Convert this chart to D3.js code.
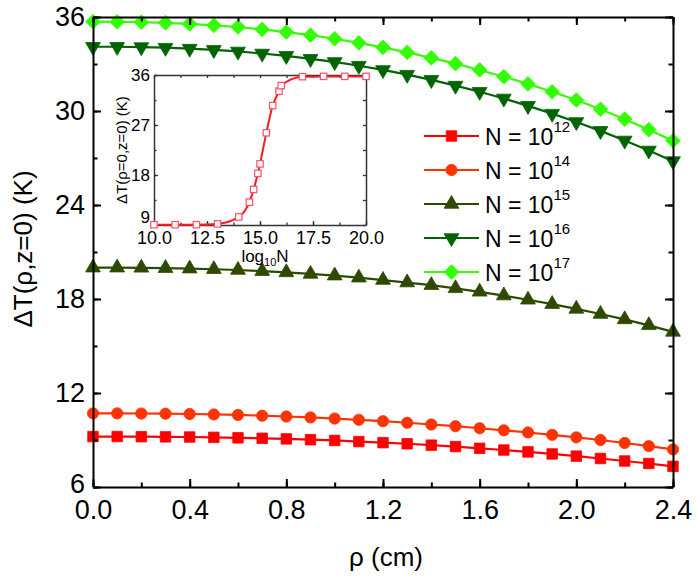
<!DOCTYPE html>
<html>
<head>
<meta charset="utf-8">
<script src="https://cdn.jsdelivr.net/npm/d3@7"></script>
<style>
  html, body { margin: 0; padding: 0; background: #ffffff; }
  text { font-family: "Liberation Sans", Arial, Helvetica, sans-serif; fill: #000; }
</style>
</head>
<body>
<script>
// ---------------- data ----------------
const rho = [0.0, 0.1, 0.2, 0.3, 0.4, 0.5, 0.6, 0.7, 0.8, 0.9, 1.0, 1.1, 1.2,
             1.3, 1.4, 1.5, 1.6, 1.7, 1.8, 1.9, 2.0, 2.1, 2.2, 2.3, 2.4];

const dT_N12 = [9.22, 9.22, 9.21, 9.20, 9.19, 9.17, 9.14, 9.11, 9.07, 9.02, 8.97, 8.90, 8.83,
                8.76, 8.67, 8.58, 8.47, 8.36, 8.24, 8.11, 7.97, 7.82, 7.66, 7.50, 7.32];
const dT_N14 = [10.70, 10.70, 10.69, 10.68, 10.66, 10.63, 10.60, 10.55, 10.50, 10.44, 10.37, 10.29, 10.20,
                10.10, 9.99, 9.88, 9.75, 9.62, 9.48, 9.33, 9.17, 9.00, 8.81, 8.61, 8.40];
const dT_N15 = [20.00, 20.00, 19.99, 19.97, 19.94, 19.90, 19.85, 19.78, 19.70, 19.60, 19.49, 19.36, 19.21,
                19.05, 18.88, 18.68, 18.46, 18.22, 17.95, 17.67, 17.37, 17.04, 16.70, 16.32, 15.90];
const dT_N16 = [34.10, 34.10, 34.08, 34.04, 33.98, 33.90, 33.80, 33.67, 33.52, 33.33, 33.13, 32.89, 32.62,
                32.32, 31.99, 31.62, 31.23, 30.80, 30.33, 29.83, 29.30, 28.73, 28.12, 27.48, 26.80];
const dT_N17 = [35.70, 35.69, 35.67, 35.63, 35.56, 35.47, 35.36, 35.21, 35.04, 34.84, 34.61, 34.35, 34.06,
                33.74, 33.39, 33.02, 32.62, 32.19, 31.73, 31.23, 30.70, 30.11, 29.48, 28.81, 28.10];

const legendExponents = ["12", "14", "15", "16", "17"];

const xTicks = [0.0, 0.4, 0.8, 1.2, 1.6, 2.0, 2.4];
const yTicks = [6, 12, 18, 24, 30, 36];

// inset: ΔT(ρ=0, z=0) versus log10 N
const insetLogN = [10.0, 11.0, 12.0, 13.0, 14.0, 14.5, 14.7, 14.9, 15.0, 15.3, 15.6, 15.9, 16.0, 17.0, 18.0, 19.0, 20.0];
const insetDT   = [9.05, 9.05, 9.05, 9.2, 10.45, 13.1, 15.4, 18.3, 20.0, 25.6, 30.5, 33.1, 34.1, 35.7, 35.75, 35.75, 35.75];
const insetXTicks = [10.0, 12.5, 15.0, 17.5, 20.0];
const insetYTicks = [9, 18, 27, 36];

// ---------------- styles ----------------
const seriesData = [dT_N12, dT_N14, dT_N15, dT_N16, dT_N17];
const colors = ["#ff0000", "#ff3300", "#2f4a00", "#006400", "#33ff00"];
const symbolTypes = ["square", "circle", "triangle", "triangleDown", "diamond"];

const W = 696, H = 578;
const svg = d3.select("body").append("svg").attr("width", W).attr("height", H);

const x = d3.scaleLinear().domain([0, 2.4]).range([93, 673]);
const y = d3.scaleLinear().domain([6, 36]).range([487, 17]);

function symbolPath(type) {
  switch (type) {
    case "square": return d3.symbol(d3.symbolSquare, 110)();
    case "circle": return d3.symbol(d3.symbolCircle, 100)();
    case "triangle": return d3.symbol(d3.symbolTriangle, 95)();
    case "triangleDown": return d3.symbol(d3.symbolTriangle, 95)();
    case "diamond": return d3.symbol(d3.symbolSquare, 108)();
  }
}
function symbolRotate(type) {
  if (type === "triangleDown") return 180;
  if (type === "diamond") return 45;
  return 0;
}

// ---------------- series ----------------
const line = d3.line().x((d, i) => x(rho[i])).y(d => y(d));
seriesData.forEach((vals, si) => {
  svg.append("path").datum(vals)
    .attr("d", line)
    .attr("fill", "none")
    .attr("stroke", colors[si])
    .attr("stroke-width", 2.2);
  svg.append("g").selectAll("path").data(vals).join("path")
    .attr("d", symbolPath(symbolTypes[si]))
    .attr("transform", (d, i) => `translate(${x(rho[i])},${y(d)}) rotate(${symbolRotate(symbolTypes[si])})`)
    .attr("fill", colors[si])
    .attr("stroke", colors[si])
    .attr("stroke-width", 0.8);
});

// ---------------- main axes ----------------
const xMinor = d3.range(0, 13).map(i => i * 0.2);
const yMinor = d3.range(0, 11).map(i => 6 + i * 3);

function styleAxis(g, width) {
  g.selectAll("path.domain").attr("stroke", "#000").attr("stroke-width", width);
  g.selectAll(".tick line").attr("stroke", "#000").attr("stroke-width", width);
}

// bottom
const gxb = svg.append("g").attr("transform", `translate(0,${y(6)})`)
  .call(d3.axisBottom(x).tickValues(xTicks).tickFormat(d3.format(".1f")).tickSize(-8).tickSizeOuter(0).tickPadding(13));
gxb.selectAll("text").attr("font-size", 27).attr("font-family", "Liberation Sans, Arial, sans-serif").attr("fill", "#000");
styleAxis(gxb, 2);
svg.append("g").attr("transform", `translate(0,${y(6)})`)
  .call(d3.axisBottom(x).tickValues(xMinor).tickFormat("").tickSize(-4.5).tickSizeOuter(0))
  .call(g => { g.select(".domain").remove(); styleAxis(g, 2); });
// top
const gxt = svg.append("g").attr("transform", `translate(0,${y(36)})`)
  .call(d3.axisTop(x).tickValues(xTicks).tickFormat("").tickSize(-8).tickSizeOuter(0));
styleAxis(gxt, 2);
svg.append("g").attr("transform", `translate(0,${y(36)})`)
  .call(d3.axisTop(x).tickValues(xMinor).tickFormat("").tickSize(-4.5).tickSizeOuter(0))
  .call(g => { g.select(".domain").remove(); styleAxis(g, 2); });
// left
const gyl = svg.append("g").attr("transform", `translate(${x(0)},0)`)
  .call(d3.axisLeft(y).tickValues(yTicks).tickFormat(d3.format("d")).tickSize(-8).tickSizeOuter(0).tickPadding(8));
gyl.selectAll("text").attr("font-size", 27).attr("font-family", "Liberation Sans, Arial, sans-serif").attr("fill", "#000");
gyl.selectAll(".tick").filter(d => d === 6).select("text").attr("dy", "0.2em");
styleAxis(gyl, 2);
svg.append("g").attr("transform", `translate(${x(0)},0)`)
  .call(d3.axisLeft(y).tickValues(yMinor).tickFormat("").tickSize(-4.5).tickSizeOuter(0))
  .call(g => { g.select(".domain").remove(); styleAxis(g, 2); });
// right
const gyr = svg.append("g").attr("transform", `translate(${x(2.4)},0)`)
  .call(d3.axisRight(y).tickValues(yTicks).tickFormat("").tickSize(-8).tickSizeOuter(0));
styleAxis(gyr, 2);
svg.append("g").attr("transform", `translate(${x(2.4)},0)`)
  .call(d3.axisRight(y).tickValues(yMinor).tickFormat("").tickSize(-4.5).tickSizeOuter(0))
  .call(g => { g.select(".domain").remove(); styleAxis(g, 2); });

// axis titles
svg.append("text")
  .attr("x", 386).attr("y", 566)
  .attr("text-anchor", "middle")
  .attr("font-size", 26)
  .text("ρ (cm)");
svg.append("text")
  .attr("transform", "translate(32,249) rotate(-90)")
  .attr("text-anchor", "middle")
  .attr("font-size", 26)
  .text("ΔT(ρ,z=0) (K)");

// ---------------- legend ----------------
const legendY0 = 136, legendDY = 34;
legendExponents.forEach((ex, i) => {
  const ly = legendY0 + i * legendDY;
  const g = svg.append("g");
  g.append("line").attr("x1", 424).attr("x2", 479).attr("y1", ly).attr("y2", ly)
    .attr("stroke", colors[i]).attr("stroke-width", 2.2);
  g.append("path").attr("d", symbolPath(symbolTypes[i]))
    .attr("transform", `translate(451.5,${ly}) rotate(${symbolRotate(symbolTypes[i])})`)
    .attr("fill", colors[i]).attr("stroke", colors[i]).attr("stroke-width", 0.8);
  const t = g.append("text").attr("x", 485).attr("y", ly + 8.5).attr("font-size", 23);
  t.append("tspan").text("N = 10");
  t.append("tspan").attr("dy", -13).attr("font-size", 15).text(ex);
});

// ---------------- inset ----------------
const xi = d3.scaleLinear().domain([10, 20]).range([154, 366]);
const yi = d3.scaleLinear().domain([9, 36]).range([225, 75]);
const inset = svg.append("g");

const insetXMinor = d3.range(0, 9).map(i => 10 + i * 1.25);
const insetYMinor = d3.range(0, 7).map(i => 9 + i * 4.5);
const axisCol = "#333";

function styleInset(g) {
  g.selectAll("path.domain").attr("stroke", axisCol).attr("stroke-width", 1.5);
  g.selectAll(".tick line").attr("stroke", axisCol).attr("stroke-width", 1.3);
}
const gib = inset.append("g").attr("transform", `translate(0,${yi(9)})`)
  .call(d3.axisBottom(xi).tickValues(insetXTicks).tickFormat(d3.format(".1f")).tickSize(-4).tickSizeOuter(0).tickPadding(6));
gib.selectAll("text").attr("font-size", 18).attr("font-family", "Liberation Sans, Arial, sans-serif").attr("fill", "#000");
styleInset(gib);
inset.append("g").attr("transform", `translate(0,${yi(9)})`)
  .call(d3.axisBottom(xi).tickValues(insetXMinor).tickFormat("").tickSize(-2.5).tickSizeOuter(0))
  .call(g => { g.select(".domain").remove(); styleInset(g); });
const git = inset.append("g").attr("transform", `translate(0,${yi(36)})`)
  .call(d3.axisTop(xi).tickValues(insetXMinor).tickFormat("").tickSize(-3).tickSizeOuter(0));
styleInset(git);
const gil = inset.append("g").attr("transform", `translate(${xi(10)},0)`)
  .call(d3.axisLeft(yi).tickValues(insetYTicks).tickFormat(d3.format("d")).tickSize(-4).tickSizeOuter(0).tickPadding(4));
gil.selectAll("text").attr("font-size", 17).attr("font-family", "Liberation Sans, Arial, sans-serif").attr("fill", "#000");
gil.selectAll(".tick").filter(d => d === 9).select("text").attr("dy", "-0.12em");
styleInset(gil);
inset.append("g").attr("transform", `translate(${xi(10)},0)`)
  .call(d3.axisLeft(yi).tickValues(insetYMinor).tickFormat("").tickSize(-2.5).tickSizeOuter(0))
  .call(g => { g.select(".domain").remove(); styleInset(g); });
const gir = inset.append("g").attr("transform", `translate(${xi(20)},0)`)
  .call(d3.axisRight(yi).tickValues(insetYMinor).tickFormat("").tickSize(-3).tickSizeOuter(0));
styleInset(gir);

const insetPts = insetLogN.map((v, i) => [v, insetDT[i]]);
inset.append("path").datum(insetPts)
  .attr("d", d3.line().x(d => xi(d[0])).y(d => yi(d[1])).curve(d3.curveMonotoneX))
  .attr("fill", "none").attr("stroke", "#ff1a1a").attr("stroke-width", 2);
inset.append("g").selectAll("rect").data(insetPts).join("rect")
  .attr("x", d => xi(d[0]) - 3.2).attr("y", d => yi(d[1]) - 3.2)
  .attr("width", 6.4).attr("height", 6.4)
  .attr("fill", "#ffffff").attr("stroke", "#ff4d6a").attr("stroke-width", 1.2);

// inset titles
const ixt = inset.append("text").attr("x", 265).attr("y", 262).attr("text-anchor", "middle").attr("font-size", 17);
ixt.append("tspan").text("log");
ixt.append("tspan").attr("dy", 4).attr("font-size", 11).text("10");
ixt.append("tspan").attr("dy", -4).text("N");
inset.append("text")
  .attr("transform", "translate(127,150) rotate(-90)")
  .attr("text-anchor", "middle")
  .attr("font-size", 15)
  .text("ΔT(ρ=0,z=0) (K)");
</script>
</body>
</html>
